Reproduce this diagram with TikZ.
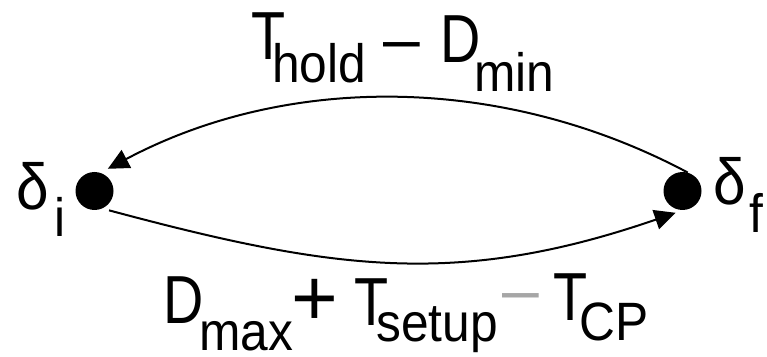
\documentclass[tikz,border=0pt]{standalone}
\usepackage{fontspec}
\setmainfont{Liberation Sans}
\newfontfamily\bigfnt{Liberation Sans}[FakeStretch=0.82]
\newfontfamily\smallfnt{Liberation Sans}[FakeStretch=0.92]
\newfontfamily\deltafnt{Liberation Sans}[FakeStretch=0.9]
\usetikzlibrary{arrows.meta}
\begin{document}
\begin{tikzpicture}[x=1pt,y=1pt,
  big/.style={inner sep=0pt,anchor=base west,font=\bigfnt\fontsize{68}{68}\selectfont},
  small/.style={inner sep=0pt,anchor=base west,font=\smallfnt\fontsize{54}{54}\selectfont},
  greek/.style={inner sep=0pt,anchor=base west,font=\deltafnt\fontsize{65}{65}\selectfont},
  op/.style={inner sep=0pt,anchor=base west,font=\fontsize{66}{66}\selectfont},
  plusop/.style={inner sep=0pt,anchor=base west,font=\fontsize{80}{80}\selectfont},
  dot/.style={circle,fill=black,minimum size=38pt,inner sep=0pt},
  link/.style={line width=2pt,-{Triangle[length=21pt,width=20pt]}}]
\useasboundingbox (0,0) rectangle (767,356);
\node[dot] (L) at (94.5,165) {};
\node[dot] (R) at (682.5,165) {};
% state labels
\node[greek] (di) at (16,146) {δ};
\node[small] (disub) at (54,120) {i};
\node[greek] (df) at (713,151) {δ};
\node[small] (dfsub) at (749,124) {f};
% connectors
\draw[link,shorten >=8.4pt] (R.74) to[out=152,in=28,looseness=0.92] (L.72);
\draw[link,shorten <=7pt,shorten >=8pt] (L.-66) to[out=-15,in=-161,looseness=1.05] (R.-88);
% top label
\node[big] (t1) at (251,296) {T};
\node[small] (t1s) at (272,273) {hold};
\node[op] (m1) at (383,294) {–};
\node[big] (d1) at (440.6,293) {D};
\node[small] (d1s) at (474,264) {min};
% bottom label
\node[big] (d2) at (163.6,33) {D};
\node[small] (d2s) at (199,6) {max};
\node[plusop] (p2) at (291,31) {+};
\node[big] (t2) at (354,31) {T};
\node[small] (t2s) at (376,15) {setup};
\node[op,text=black!35] (m2) at (502,44) {–};
\node[big] (t3) at (553,36) {T};
\node[small] (t3s) at (579.5,16) {CP};
\end{tikzpicture}
\end{document}
